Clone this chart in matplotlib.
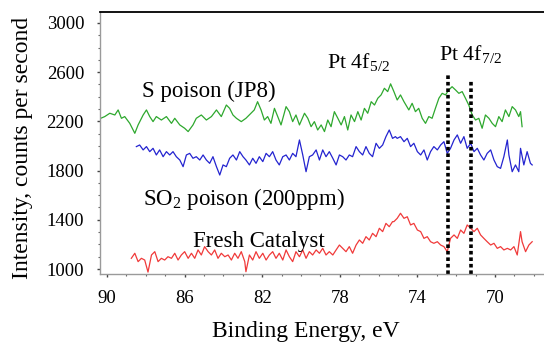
import matplotlib
matplotlib.use("Agg")
import matplotlib.pyplot as plt

plt.rcParams['font.family'] = ['Liberation Serif', 'DejaVu Serif']
plt.rcParams['mathtext.fontset'] = 'custom'
plt.rcParams['mathtext.rm'] = 'Liberation Serif'
plt.rcParams['mathtext.it'] = 'Liberation Serif:italic'

# ---- data (binding energy eV, counts per second) ----
s_energy = [90.33, 90.12, 89.86, 89.60, 89.43, 89.26, 89.09, 88.83, 88.57, 88.40,
            88.14, 87.97, 87.80, 87.63, 87.46, 87.20, 86.94, 86.68, 86.51, 86.25,
            86.00, 85.82, 85.57, 85.40, 85.14, 84.88, 84.62, 84.36, 84.11, 83.85,
            83.68, 83.51, 83.33, 83.08, 82.84, 82.58, 82.41, 82.24, 82.06, 81.89,
            81.72, 81.55, 81.37, 81.20, 81.03, 80.77, 80.60, 80.43, 80.26, 80.08,
            79.82, 79.65, 79.48, 79.31, 79.14, 78.96, 78.79, 78.62, 78.45, 78.28,
            78.10, 77.93, 77.76, 77.59, 77.42, 77.24, 77.07, 76.90, 76.73, 76.56,
            76.38, 76.21, 76.04, 75.87, 75.70, 75.53, 75.38, 75.21, 75.04, 74.87,
            74.69, 74.44, 74.27, 74.10, 73.93, 73.75, 73.58, 73.41, 73.24, 73.07,
            72.89, 72.72, 72.55, 72.38, 72.21, 72.03, 71.86, 71.69, 71.52, 71.35,
            71.17, 71.00, 70.83, 70.66, 70.49, 70.31, 70.14, 69.97, 69.80, 69.63,
            69.46, 69.28, 69.11, 68.94, 68.77, 68.68, 68.60]
s_counts = [2225, 2239, 2266, 2252, 2293, 2225, 2239, 2184, 2103, 2171,
            2252, 2293, 2239, 2198, 2239, 2211, 2239, 2184, 2225, 2171,
            2144, 2117, 2171, 2225, 2252, 2211, 2239, 2293, 2239, 2333,
            2306, 2252, 2225, 2198, 2225, 2266, 2293, 2360, 2293, 2211,
            2239, 2184, 2306, 2239, 2171, 2320, 2279, 2198, 2252, 2171,
            2266, 2225, 2157, 2198, 2130, 2171, 2117, 2211, 2157, 2279,
            2225, 2171, 2239, 2130, 2252, 2198, 2279, 2211, 2306, 2266,
            2360, 2333, 2388, 2415, 2469, 2442, 2505, 2442, 2374, 2415,
            2360, 2293, 2347, 2279, 2306, 2225, 2184, 2239, 2225, 2306,
            2388, 2428, 2415, 2455, 2482, 2455, 2428, 2442, 2388, 2333,
            2252, 2211, 2225, 2144, 2252, 2225, 2184, 2157, 2239, 2198,
            2293, 2239, 2320, 2293, 2239, 2279, 2157]

so2_energy = [88.49, 88.32, 88.14, 87.97, 87.80, 87.63, 87.46, 87.29, 87.11, 86.94,
              86.77, 86.60, 86.43, 86.25, 86.08, 85.91, 85.74, 85.57, 85.40, 85.22,
              85.05, 84.88, 84.71, 84.54, 84.36, 84.19, 84.02, 83.85, 83.68, 83.51,
              83.33, 83.16, 82.99, 82.84, 82.66, 82.49, 82.32, 82.15, 81.97, 81.80,
              81.63, 81.46, 81.29, 81.12, 80.94, 80.77, 80.60, 80.43, 80.26, 80.08,
              79.91, 79.74, 79.57, 79.40, 79.22, 79.05, 78.88, 78.71, 78.54, 78.36,
              78.19, 78.02, 77.85, 77.68, 77.51, 77.34, 77.16, 76.99, 76.82, 76.65,
              76.48, 76.31, 76.13, 75.96, 75.79, 75.62, 75.45, 75.28, 75.13, 75.04,
              74.87, 74.69, 74.52, 74.35, 74.18, 74.00, 73.83, 73.66, 73.49, 73.32,
              73.15, 72.97, 72.80, 72.63, 72.46, 72.29, 72.11, 71.94, 71.77, 71.60,
              71.43, 71.25, 71.08, 70.91, 70.74, 70.57, 70.40, 70.22, 70.05, 69.88,
              69.71, 69.54, 69.36, 69.28, 69.11, 68.94, 68.77, 68.68, 68.51, 68.34,
              68.17, 68.08]
so2_counts = [1995, 2008, 1968, 1995, 1954, 1981, 1927, 1968, 1913, 1954,
              1927, 1954, 1913, 1886, 1832, 1927, 1940, 1900, 1913, 1886,
              1927, 1886, 1859, 1913, 1832, 1764, 1846, 1832, 1900, 1927,
              1886, 1954, 1913, 1886, 1846, 1900, 1859, 1913, 1873, 1940,
              1913, 1954, 1886, 1846, 1913, 1927, 1886, 1940, 1913, 2049,
              1927, 1791, 1913, 1927, 1968, 1886, 1968, 1913, 1954, 1900,
              1846, 1927, 1913, 1886, 1927, 1913, 1995, 1954, 1927, 1995,
              1940, 1913, 2022, 1981, 2008, 2076, 2130, 2062, 2076, 2062,
              2076, 2035, 2062, 1995, 2022, 1954, 1927, 1968, 1886, 1954,
              1995, 1968, 2008, 2035, 1940, 1981, 2049, 2090, 2022, 2076,
              1981, 2022, 1954, 1981, 1927, 1886, 1940, 1968, 1886, 1832,
              1818, 1913, 2049, 1927, 1791, 1846, 1791, 1981, 1846, 1954,
              1859, 1846]

fresh_energy = [88.75, 88.57, 88.40, 88.23, 88.06, 87.89, 87.71, 87.54, 87.37, 87.20,
                87.03, 86.86, 86.68, 86.51, 86.34, 86.17, 86.00, 85.82, 85.65, 85.48,
                85.31, 85.14, 84.97, 84.79, 84.62, 84.45, 84.28, 84.11, 83.93, 83.76,
                83.59, 83.42, 83.25, 83.08, 82.90, 82.84, 82.66, 82.49, 82.32, 82.15,
                81.97, 81.80, 81.63, 81.46, 81.29, 81.12, 80.94, 80.77, 80.60, 80.43,
                80.26, 80.08, 79.91, 79.74, 79.57, 79.40, 79.22, 79.05, 78.88, 78.71,
                78.54, 78.36, 78.19, 78.02, 77.85, 77.68, 77.51, 77.34, 77.16, 76.99,
                76.82, 76.65, 76.48, 76.31, 76.13, 75.96, 75.79, 75.62, 75.45, 75.28,
                75.21, 75.04, 74.87, 74.69, 74.52, 74.35, 74.18, 74.00, 73.83, 73.66,
                73.49, 73.32, 73.15, 72.97, 72.80, 72.63, 72.46, 72.29, 72.11, 71.94,
                71.77, 71.60, 71.43, 71.25, 71.08, 70.91, 70.74, 70.57, 70.40, 70.22,
                70.05, 69.88, 69.71, 69.54, 69.36, 69.19, 69.02, 68.85, 68.68, 68.60,
                68.42, 68.25, 68.08]
fresh_counts = [1087, 1128, 1060, 1087, 1073, 975, 1114, 1141, 1060, 1087,
                1073, 1100, 1087, 1128, 1073, 1114, 1141, 1087, 1128, 1087,
                1155, 1114, 1182, 1141, 1114, 1155, 1087, 1128, 1100, 1114,
                1073, 1128, 1087, 1141, 1060, 978, 1114, 1073, 1141, 1087,
                1128, 1073, 1114, 1141, 1087, 1128, 1073, 1155, 1100, 1060,
                1141, 1100, 1155, 1087, 1141, 1114, 1155, 1128, 1168, 1114,
                1141, 1114, 1155, 1195, 1168, 1141, 1182, 1128, 1195, 1236,
                1209, 1263, 1236, 1290, 1263, 1331, 1304, 1371, 1344, 1385,
                1385, 1412, 1453, 1412, 1425, 1358, 1371, 1317, 1304, 1249,
                1263, 1222, 1209, 1222, 1195, 1182, 1141, 1249, 1277, 1249,
                1317, 1290, 1358, 1331, 1304, 1331, 1277, 1249, 1222, 1195,
                1209, 1168, 1182, 1155, 1168, 1155, 1182, 1114, 1304, 1222,
                1141, 1195, 1222]

peak_lines = [72.4, 71.25]
peak_tops = [2594, 2545]

x_ticks = [90, 86, 82, 78, 74, 70]
y_ticks = [1000, 1400, 1800, 2200, 2600, 3000]

# ---- figure ----
fig = plt.figure(figsize=(5.44, 3.43), dpi=100)
ax = fig.add_axes([0.184, 0.201, 0.816, 0.764])

ax.plot(s_energy, s_counts, color='#2ea82e', lw=0.9)
ax.plot(so2_energy, so2_counts, color='#2424d0', lw=0.9)
ax.plot(fresh_energy, fresh_counts, color='#f03a3a', lw=0.9)

ax.set_xlim(90.36, 67.47)
ax.set_ylim(959, 3089)

for xv, top in zip(peak_lines, peak_tops):
    ax.plot([xv, xv], [959, top], color='black', lw=2.6, linestyle=(0, (1, 0.8)),
            solid_capstyle='butt', dash_capstyle='butt')

ax.set_xticks(x_ticks)
ax.set_xticks([v for v in range(68, 91)], minor=True)
ax.set_yticks(y_ticks)
ax.set_yticks(list(range(1000, 3001, 100)), minor=True)
ax.set_xticklabels([str(v) for v in x_ticks])
ax.set_yticklabels([str(v) for v in y_ticks])

ax.tick_params(axis='both', which='major', direction='out', length=2.5, width=1.0,
               color='#444444', labelsize=13.5)
ax.tick_params(axis='both', which='minor', direction='out', length=1.5, width=0.8,
               color='#666666')
ax.tick_params(axis='y', which='major', pad=9)
ax.tick_params(axis='x', which='major', pad=9)

ax.spines['right'].set_visible(False)
ax.spines['top'].set_color('black')
ax.spines['top'].set_linewidth(1.3)
ax.spines['left'].set_color('#9a9a9a')
ax.spines['bottom'].set_color('#9a9a9a')
ax.spines['left'].set_linewidth(1.0)
ax.spines['bottom'].set_linewidth(1.0)

ax.set_xlabel('Binding Energy, eV', fontsize=17)
ax.xaxis.set_label_coords(0.464, -0.178)
ax.set_ylabel('Intensity, counts per second', fontsize=17)
ax.yaxis.set_label_coords(-0.152, 0.48)

ax.text(88.2, 2398, 'S poison (JP8)', fontsize=16.5, ha='left', va='baseline')
ax.text(78.66, 2634, r'Pt 4f$_{5/2}$', fontsize=15.8, ha='left', va='baseline')
ax.text(72.89, 2699, r'Pt 4f$_{7/2}$', fontsize=15.8, ha='left', va='baseline')
ax.text(88.14, 1520, r'SO$_2$ poison (200ppm)', fontsize=16.5, ha='left', va='baseline')
ax.text(85.57, 1179, 'Fresh Catalyst', fontsize=16.5, ha='left', va='baseline')

fig.savefig('out.png', dpi=100)
